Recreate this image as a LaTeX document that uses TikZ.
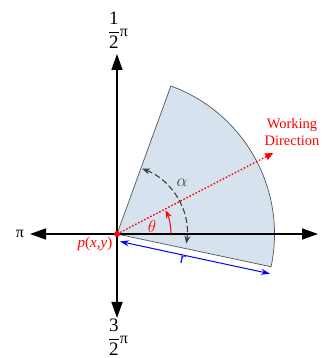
\documentclass[tikz,border=0pt]{standalone}
\usepackage{fontspec}
\setmainfont{Liberation Serif}
\usetikzlibrary{arrows.meta}
\definecolor{sectorfill}{RGB}{214,226,238}
\definecolor{sectoredge}{RGB}{85,85,85}
\definecolor{alphagray}{RGB}{64,64,64}
\begin{document}
\begin{tikzpicture}[x=1pt,y=1pt,
  axisline/.style={line width=1.6pt,-{Triangle[length=16pt,width=11pt]}},
  lbl/.style={inner sep=0pt,font=\fontsize{16}{18}\selectfont},
  wdir/.style={red,line width=1.3pt,dash pattern=on 1.6pt off 1.8pt,-{Triangle[length=8pt,width=7pt]}},
  alphaarc/.style={alphagray,line width=1.1pt,dash pattern=on 6pt off 3pt,{Stealth[length=8pt,width=6pt]}-{Stealth[length=8pt,width=6pt]}},
  thetaarc/.style={red,line width=1pt,-{Stealth[length=8pt,width=6pt]}},
  rarrow/.style={blue,line width=1pt,{Stealth[length=9pt,width=6pt]}-{Stealth[length=9pt,width=6pt]}}]
\useasboundingbox (0,0) rectangle (326,358);
\coordinate (O) at (117,124);
\coordinate (L) at (30,124);
\coordinate (R) at (318,124);
\coordinate (T) at (117,304);
\coordinate (B) at (117,40);
% sector
\fill[sectorfill] (O) -- ++(-12:157.5) arc[start angle=-12,end angle=70,radius=157.5] -- cycle;
\draw[sectoredge,line width=0.7pt] (O) -- ++(-12:157.5) arc[start angle=-12,end angle=70,radius=157.5] -- cycle;
% axes
\draw[axisline] (O) -- (L);
\draw[axisline] (O) -- (R);
\draw[axisline] (O) -- (T);
\draw[axisline] (O) -- (B);
% axis labels
\node[lbl] (pil) at (20,124) {π};
\node[inner sep=0pt] (ptop) at (118,328) {{\fontsize{19}{22}\selectfont$\displaystyle\frac{\mbox{1}}{\mbox{2}}$}{\fontsize{16}{18}\selectfont π}};
\node[inner sep=0pt] (pbot) at (118,21) {{\fontsize{19}{22}\selectfont$\displaystyle\frac{\mbox{3}}{\mbox{2}}$}{\fontsize{16}{18}\selectfont π}};
% working direction
\coordinate (WD) at ([shift={(27.4:176)}]O);
\draw[wdir] (O) -- (WD);
\node[red,align=center,inner sep=0pt,font=\fontsize{14.5}{17}\selectfont] (wdl) at (292,226) {Working\\Direction};
% alpha arc
\draw[alphaarc] ([shift={(69:70)}]O) arc[start angle=69,end angle=-8,radius=70];
\node[alphagray,inner sep=0pt,font=\fontsize{19}{22}\selectfont] (al) at (182,175) {$\alpha$};
% theta arc
\draw[thetaarc] ([shift={(0:54)}]O) arc[start angle=0,end angle=26,radius=54];
\node[red,inner sep=0pt,font=\fontsize{19}{22}\selectfont] (th) at (152,131) {$\theta$};
% r arrow
\coordinate (r1) at (120,116.5);
\coordinate (r2) at (270,84.3);
\draw[rarrow] (r1) -- (r2);
\node[blue,inner sep=0pt,font=\fontsize{16}{18}\selectfont] (rl) at (183,98) {\textit{r}};
% point
\node[red,inner sep=0pt,font=\fontsize{15}{18}\selectfont] (pl) at (95,114) {\textit{p}(\textit{x},\textit{y})};
\node[circle,fill=red,inner sep=0pt,minimum size=6pt] (P) at (O) {};
\end{tikzpicture}
\end{document}
